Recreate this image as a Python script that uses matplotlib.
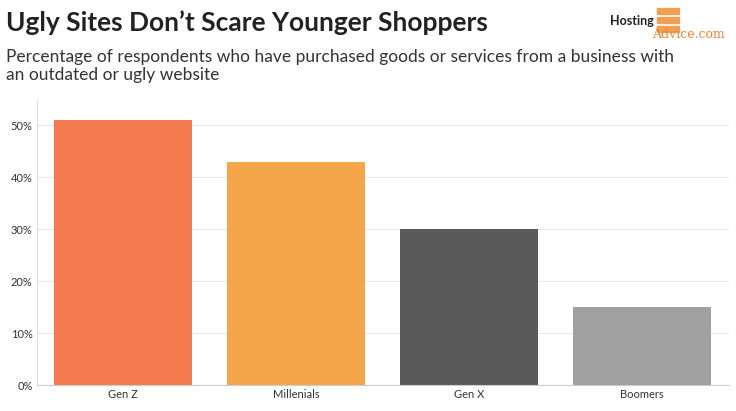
import matplotlib.pyplot as plt
import matplotlib.patches as mpatches

categories = ["Gen Z", "Millenials", "Gen X", "Boomers"]
values = [51, 43, 30, 15]
colors = ["#f47a50", "#f5a54a", "#595959", "#a0a0a0"]
yticks = [0, 10, 20, 30, 40, 50]

plt.rcParams["font.family"] = ["Lato", "DejaVu Sans"]

fig = plt.figure(figsize=(7.36, 4.11), dpi=100)
ax = fig.add_axes([0.05, 0.063, 0.94, 0.695])

x = range(len(categories))
ax.bar(x, values, width=0.8, color=colors, zorder=2)
ax.set_xticks(list(x))
ax.set_xticklabels(categories, fontsize=8, color="#333333")
ax.set_yticks(yticks)
ax.set_yticklabels([f"{v}%" for v in yticks], fontsize=8, color="#333333")
ax.set_ylim(0, 55)
ax.set_xlim(-0.5, 3.5)
ax.grid(axis="y", color="#e8e8e8", linewidth=0.8, zorder=0)
for s in ["top", "right"]:
    ax.spines[s].set_visible(False)
ax.spines["left"].set_color("#dddddd")
ax.spines["bottom"].set_color("#cccccc")
ax.tick_params(length=0, pad=3)

fig.text(0.008, 0.945, "Ugly Sites Don\u2019t Scare Younger Shoppers", fontsize=19,
         fontweight="bold", color="#222222", va="center")
fig.text(0.008, 0.84, "Percentage of respondents who have purchased goods or services from a business with\nan outdated or ugly website",
         fontsize=12.5, color="#333333", va="center", linespacing=1.15)

# logo
fig.text(0.888, 0.948, "Hosting", fontsize=9, fontweight="bold", color="#222222", ha="right", va="center")
fig.text(0.985, 0.915, "Advice.com", fontsize=9, color="#e8853a", ha="right", va="center",
         family=["DejaVu Serif"])
for i in range(3):
    fig.patches.append(mpatches.Rectangle((0.893, 0.965 - i * 0.022), 0.03, 0.016,
                                          transform=fig.transFigure, color="#f0a050"))

fig.savefig("out.png", dpi=100)
